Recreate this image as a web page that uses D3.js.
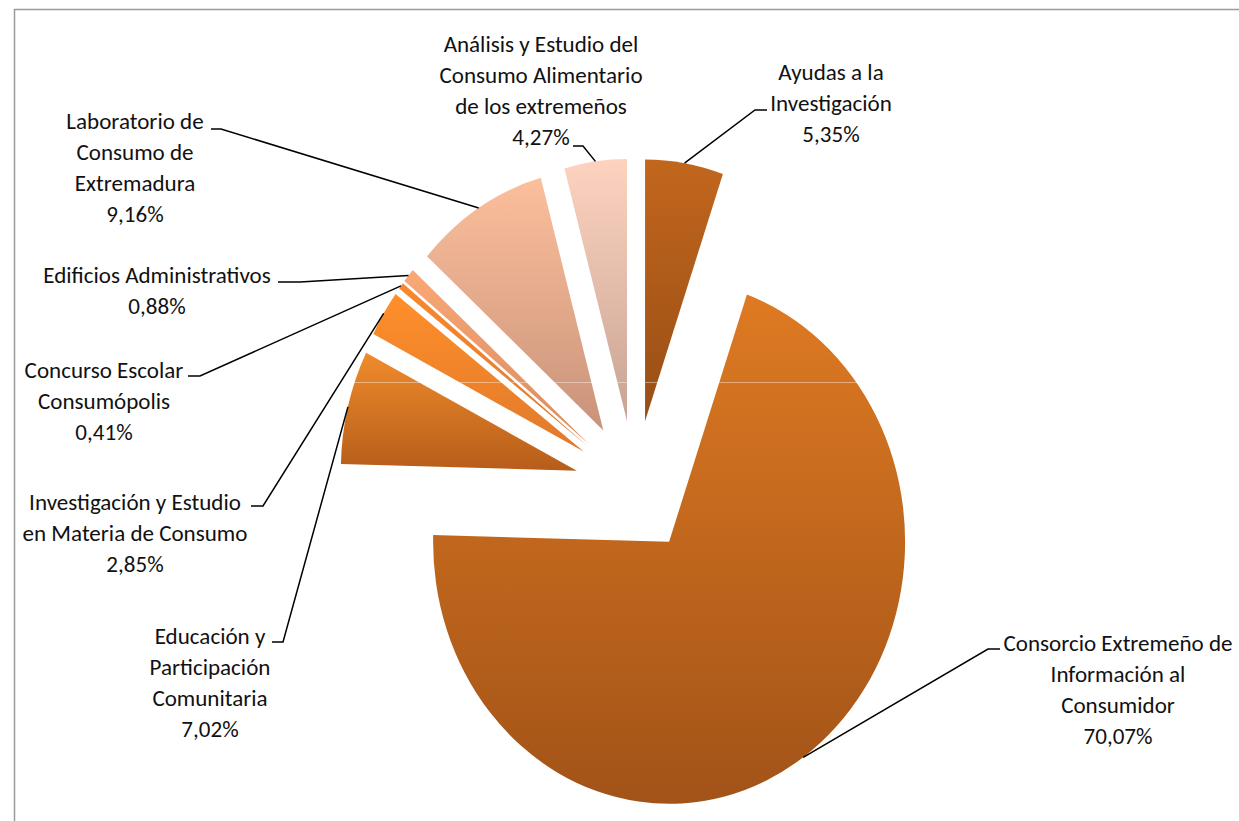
<!DOCTYPE html>
<html>
<head>
<meta charset="utf-8">
<script src="https://cdn.jsdelivr.net/npm/d3@7"></script>
<style>
  html, body { margin: 0; padding: 0; background: #fff; }
  svg { display: block; }
  text { font-family: Carlito, Calibri, Lato, "Open Sans", sans-serif; fill: #111; }
</style>
</head>
<body>
<div class="pie_chart"></div>
<script>
// data, clockwise from 12 o'clock
var names = [
    ["Ayudas a la", "Investigación"],
    ["Consorcio Extremeño de", "Información al", "Consumidor"],
    ["Educación y", "Participación", "Comunitaria"],
    ["Investigación y Estudio", "en Materia de Consumo"],
    ["Concurso Escolar", "Consumópolis"],
    ["Edificios Administrativos"],
    ["Laboratorio de", "Consumo de", "Extremadura"],
    ["Análisis y Estudio del", "Consumo Alimentario", "de los extremeños"]
];
var values = [5.35, 70.07, 7.02, 2.85, 0.41, 0.88, 9.16, 4.27];
var valueLabels = ["5,35%", "70,07%", "7,02%", "2,85%", "0,41%", "0,88%", "9,16%", "4,27%"];
var topColors = ["#c2661d", "#de7a22", "#f08b2c", "#ff8f2a", "#f7882e", "#faa878", "#fcbf9c", "#fdd3c0"];
var bottomColors = ["#984e15", "#a25318", "#b65d1a", "#e0792a", "#e07a2c", "#d98a5c", "#c9937a", "#c8a393"];

// label placement: text centre x, first baseline y, leader start & elbow
var labelPos = [
    { x: 831, y: 80, lead: [[767, 110], [755, 110]] },
    { x: 1118, y: 651, lead: [[1000, 649], [988, 649]] },
    { x: 210, y: 644, lead: [[272, 642], [283, 642]] },
    { x: 135, y: 510, lead: [[251, 506], [263, 506]] },
    { x: 104, y: 378, lead: [[188, 376], [200, 376]] },
    { x: 157, y: 283, lead: [[278, 282], [300, 282]] },
    { x: 135, y: 129, lead: [[211, 129], [221, 129]] },
    { x: 541, y: 52, lead: [[573, 146], [583, 146]] }
];

var width = 1239, height = 821;
var cx = 635, cy = 487, r = 236, squash = 1.11, explode = 60, lineGap = 31;

var svg = d3.select(".pie_chart").append("svg")
    .attr("width", width)
    .attr("height", height);

// chart frame
svg.append("rect")
    .attr("x", 14.5).attr("y", 9.5)
    .attr("width", 1400).attr("height", 1000)
    .attr("fill", "none")
    .attr("stroke", "#9a9a9a")
    .attr("stroke-width", 1.5);

var defs = svg.append("defs");
values.forEach(function (v, i) {
    var g = defs.append("linearGradient")
        .attr("id", "grad" + i)
        .attr("x1", 0).attr("y1", 0).attr("x2", 0).attr("y2", 1);
    g.append("stop").attr("offset", "0%").attr("stop-color", topColors[i]);
    g.append("stop").attr("offset", "100%").attr("stop-color", bottomColors[i]);
});

var pie = d3.pie().sort(null).value(function (d) { return d; });
var arcs = pie(values);

var arc = d3.arc().innerRadius(0).outerRadius(r);

// the picture is stretched vertically, so the pie is an ellipse
var pieG = svg.append("g")
    .attr("transform", "translate(" + cx + "," + cy + ") scale(1," + squash + ")");

function midAngle(d) { return (d.startAngle + d.endAngle) / 2; }

pieG.selectAll("path.slice")
    .data(arcs)
    .enter().append("path")
    .attr("class", "slice")
    .attr("d", arc)
    .attr("transform", function (d) {
        var a = midAngle(d);
        return "translate(" + (explode * Math.sin(a)) + "," + (-explode * Math.cos(a)) + ")";
    })
    .style("fill", function (d, i) { return "url(#grad" + i + ")"; });

// faint seam across the gradient fills
svg.append("line")
    .attr("x1", 330).attr("x2", 910)
    .attr("y1", 382.5).attr("y2", 382.5)
    .attr("stroke", "#fff")
    .attr("stroke-opacity", 0.4)
    .attr("stroke-width", 1);

// leader lines end at the middle of each slice's outer arc
function arcPoint(d) {
    var a = midAngle(d), k = explode + r;
    return [cx + k * Math.sin(a), cy - k * Math.cos(a) * squash];
}

svg.selectAll("path.leader")
    .data(arcs)
    .enter().append("path")
    .attr("class", "leader")
    .attr("d", function (d, i) {
        var p = labelPos[i].lead.concat([arcPoint(d)]);
        return d3.line()(p);
    })
    .attr("fill", "none")
    .attr("stroke", "#000")
    .attr("stroke-width", 1.5);

// labels
var fontSize = 20;
var labels = svg.selectAll("text.label")
    .data(arcs)
    .enter().append("text")
    .attr("class", "label")
    .attr("text-anchor", "middle")
    .style("font-size", fontSize + "px");

labels.each(function (d, i) {
    var t = d3.select(this);
    var lines = names[i].concat([valueLabels[i]]);
    lines.forEach(function (s, j) {
        t.append("tspan")
            .attr("x", labelPos[i].x)
            .attr("y", labelPos[i].y + j * lineGap)
            .text(s);
    });
});

// fit the font so the widest line matches the original width
var probe = labels.filter(function (d, i) { return i === 1; }).select("tspan").node();
var w = probe.getComputedTextLength();
if (w > 0) {
    fontSize = fontSize * 229 / w;
    labels.style("font-size", fontSize.toFixed(2) + "px");
}
</script>
</body>
</html>
